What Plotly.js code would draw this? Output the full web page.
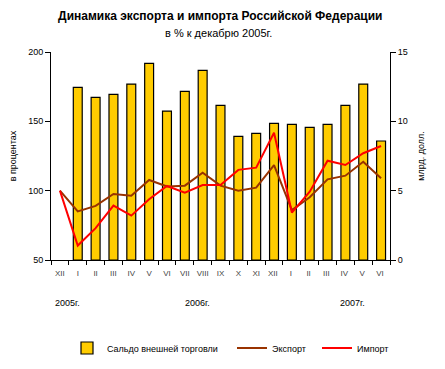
<!DOCTYPE html>
<html><head><meta charset="utf-8">
<script src="https://cdn.plot.ly/plotly-3.0.1.min.js"></script>
<style>html,body{margin:0;padding:0;background:#fff}</style>
</head><body>
<div id="chart" style="width:445px;height:369px"></div>
<script>
const categories = ["XII","I","II","III","IV","V","VI","VII","VIII","IX","X","XI","XII ","I ","II ","III ","IV ","V ","VI "];
const balance = [null,12.45,11.73,11.95,12.69,14.18,10.74,12.16,13.68,11.15,8.92,9.13,9.85,9.78,9.57,9.78,11.15,12.69,8.58];
const exportPct = [100,85,89,97.6,96.4,107.7,103,103.6,113,103.6,100,102.2,118.5,86,95.2,108.2,110.8,120.9,108.9];
const importPct = [100,60.4,73,89.2,82,93.8,103.4,98.6,104.1,104.1,115,116.6,141.8,84.2,99.3,121.6,118.5,127,132.2];
const yearLabels = ["2005г.","2006г.","2007г."];

const F = "Arial, 'Liberation Sans', sans-serif";
const traces = [
  {type:"bar", name:"Сальдо внешней торговли", x:categories, y:balance, yaxis:"y", legend:"legend",
   marker:{color:"#FFCC00", line:{color:"#000", width:1.2}}},
  {type:"scatter", mode:"lines", name:"Экспорт", x:categories, y:exportPct, yaxis:"y2", legend:"legend2",
   line:{color:"#993300", width:2}},
  {type:"scatter", mode:"lines", name:"Импорт", x:categories, y:importPct, yaxis:"y2", legend:"legend3",
   line:{color:"#FF0000", width:2}}
];
const LY = -(348-260)/208;
const leg = (x) => ({orientation:"h", x:x, xanchor:"left", y:LY, yanchor:"middle", font:{size:9}, bgcolor:"rgba(0,0,0,0)"});
const layout = {
  width:445, height:369,
  margin:{l:51, r:55, t:52, b:109, autoexpand:false},
  paper_bgcolor:"#fff", plot_bgcolor:"#fff",
  font:{family:F, size:9, color:"#000"},
  showlegend:true,
  bargap:0.5,
  title:{text:"<b>Динамика экспорта и импорта Российской Федерации</b>", font:{family:F, size:12, color:"#000"},
         x:0.495, xanchor:"center", y:1-16/369, yanchor:"middle", yref:"container"},
  xaxis:{type:"category", tickson:"boundaries", ticks:"outside", ticklen:4, tickcolor:"#000", tickangle:0,
         ticklabelstandoff:5,
         showline:true, linecolor:"#000", linewidth:1, showgrid:false, zeroline:false,
         tickfont:{size:8, color:"#444"}, fixedrange:true},
  yaxis:{side:"right", range:[0,15], tickvals:[0,5,10,15], ticks:"outside", ticklen:5, tickcolor:"#000",
         showline:true, linecolor:"#000", showgrid:false, zeroline:false,
         title:{text:"млрд. долл.", font:{size:9}, standoff:10}, tickfont:{size:9}},
  yaxis2:{overlaying:"y", side:"left", range:[50,200], tickvals:[50,100,150,200], ticks:"outside", ticklen:5,
          tickcolor:"#000", showline:true, linecolor:"#000", showgrid:false, zeroline:false,
          title:{text:"в процентах", font:{size:9}, standoff:10}, tickfont:{size:9}},
  legend:leg((67-51)/339),
  legend2:leg((232-51)/339),
  legend3:leg((317-51)/339),
  annotations:[
    {text:"в % к декабрю 2005г.", xref:"paper", yref:"paper", x:0.495, y:1+(52-33)/208, xanchor:"center", yanchor:"middle", showarrow:false, font:{size:11}},
    {text:yearLabels[0], xref:"x", yref:"paper", x:0.4, y:-(303-260)/208, xanchor:"center", yanchor:"middle", showarrow:false, font:{size:9}},
    {text:yearLabels[1], xref:"x", yref:"paper", x:7.7, y:-(303-260)/208, xanchor:"center", yanchor:"middle", showarrow:false, font:{size:9}},
    {text:yearLabels[2], xref:"x", yref:"paper", x:16.4, y:-(303-260)/208, xanchor:"center", yanchor:"middle", showarrow:false, font:{size:9}}
  ]
};
Plotly.newPlot("chart", traces, layout, {displayModeBar:false, staticPlot:true});
</script>
</body></html>
